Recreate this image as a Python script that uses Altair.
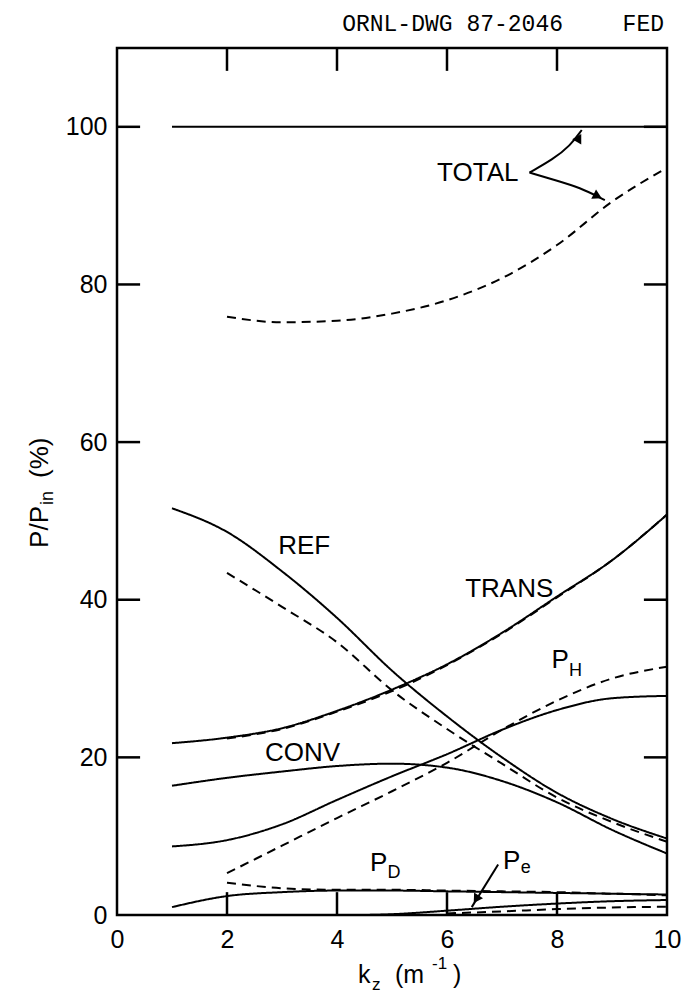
import altair as alt
import pandas as pd

# ---------------- data ----------------
KZ = [1, 2, 3, 4, 5, 6, 7, 8, 9, 10]
KZ2 = [2, 3, 4, 5, 6, 7, 8, 9, 10]

total_solid_x = [1, 10]
total_solid_y = [100, 100]
total_dash_y = [75.9, 75.2, 75.4, 76.3, 78.0, 80.8, 85.0, 90.5, 94.8]

ref_solid_y = [51.6, 48.6, 43.6, 37.7, 31.0, 25.2, 20.0, 15.5, 12.2, 9.7]
ref_dash_y = [43.4, 39.1, 34.6, 28.5, 23.6, 19.2, 14.9, 11.8, 9.3]

trans_solid_y = [21.8, 22.5, 23.7, 25.9, 28.6, 31.8, 35.8, 40.4, 45.0, 50.8]
trans_dash_y = [22.4, 23.6, 25.8, 28.4, 31.7, 35.7, 40.3, 45.0, 50.8]

conv_solid_y = [16.4, 17.4, 18.2, 18.9, 19.2, 18.7, 17.0, 14.3, 10.8, 7.8]

ph_solid_y = [8.7, 9.5, 11.5, 14.6, 17.6, 20.4, 23.5, 26.0, 27.5, 27.8]
ph_dash_y = [5.3, 8.8, 12.3, 15.7, 19.3, 23.5, 27.2, 30.0, 31.5]

pd_solid_y = [1.0, 2.4, 2.9, 3.1, 3.1, 3.0, 2.9, 2.8, 2.7, 2.6]
pd_dash_y = [4.1, 3.4, 3.2, 3.2, 3.1, 3.0, 2.9, 2.7, 2.5]

pe_solid_x = [4.5, 5, 6, 7, 8, 9, 10]
pe_solid_y = [0.0, 0.1, 0.55, 1.05, 1.45, 1.75, 1.9]
pe_dash_x = [6, 7, 8, 9, 10]
pe_dash_y = [0.2, 0.45, 0.75, 0.95, 1.05]

x_tick_values = [0, 2, 4, 6, 8, 10]
y_tick_values = [0, 20, 40, 60, 80, 100]
inner_x_ticks = [2, 4, 6, 8]
inner_y_ticks = [20, 40, 60, 80, 100]

# curve labels (data coordinates)
label_text = ["REF", "TRANS", "CONV", "TOTAL", "P", "P", "P"]
label_x = [2.93, 6.33, 2.69, 5.82, 7.90, 4.60, 7.02]
label_y = [46.8, 41.4, 20.6, 94.2, 32.3, 6.6, 6.9]
sub_text = ["H", "D", "e"]
sub_x = [8.22, 4.92, 7.34]
sub_y = [31.0, 5.3, 5.9]

# arrows (annotation paths)
arrow_id = ["up"] * 4 + ["down"] * 4 + ["pe"] * 2
arrow_x = [7.50, 7.93, 8.24, 8.45, 7.50, 7.93, 8.42, 8.87, 6.93, 6.45]
arrow_y = [94.2, 95.9, 97.6, 99.6, 94.2, 93.3, 92.3, 90.7, 6.4, 1.0]
head_x = [8.40, 8.74, 6.53]
head_y = [98.6, 91.2, 2.0]
head_angle = [30, 117, 212]

# ---------------- tables ----------------
rows = []
def add(series, style, xs, ys):
    for i, (a, b) in enumerate(zip(xs, ys)):
        rows.append({"series": series, "style": style, "kz": a, "p": b, "o": i})

add("total_s", "solid", total_solid_x, total_solid_y)
add("total_d", "dash", KZ2, total_dash_y)
add("ref_s", "solid", KZ, ref_solid_y)
add("ref_d", "dash", KZ2, ref_dash_y)
add("trans_s", "solid", KZ, trans_solid_y)
add("trans_d", "dash", KZ2, trans_dash_y)
add("conv_s", "solid", KZ, conv_solid_y)
add("ph_s", "solid", KZ, ph_solid_y)
add("ph_d", "dash", KZ2, ph_dash_y)
add("pd_s", "solid", KZ, pd_solid_y)
add("pd_d", "dash", KZ2, pd_dash_y)
add("pe_s", "solid", pe_solid_x, pe_solid_y)
add("pe_d", "dash", pe_dash_x, pe_dash_y)
lines_df = pd.DataFrame(rows)

tick_rows = []
for t in inner_x_ticks:
    tick_rows.append({"x": t, "x2": t, "y": 0, "y2": 2.9})
    tick_rows.append({"x": t, "x2": t, "y": 110, "y2": 107.1})
for t in inner_y_ticks:
    tick_rows.append({"x": 0, "x2": 0.42, "y": t, "y2": t})
    tick_rows.append({"x": 10, "x2": 9.58, "y": t, "y2": t})
ticks_df = pd.DataFrame(tick_rows)

labels_df = pd.DataFrame({"t": label_text, "x": label_x, "y": label_y})
subs_df = pd.DataFrame({"t": sub_text, "x": sub_x, "y": sub_y})
arrows_df = pd.DataFrame({"id": arrow_id, "x": arrow_x, "y": arrow_y,
                          "o": list(range(len(arrow_x)))})
heads_df = pd.DataFrame({"x": head_x, "y": head_y, "a": head_angle})

FONT = "Liberation Sans"
xs = alt.Scale(domain=[0, 10], nice=False, zero=False)
ys = alt.Scale(domain=[0, 110], nice=False)

lines = alt.Chart(lines_df).mark_line(color="black", strokeWidth=2, interpolate="monotone").encode(
    x=alt.X("kz:Q", scale=xs,
            axis=alt.Axis(values=x_tick_values, ticks=False, domain=False, grid=False,
                          labelFontSize=25, labelFont=FONT, labelColor="black",
                          labelPadding=12, title=None, labelFlush=False)),
    y=alt.Y("p:Q", scale=ys,
            axis=alt.Axis(values=y_tick_values, ticks=False, domain=False, grid=False,
                          labelFontSize=25, labelFont=FONT, labelColor="black",
                          labelPadding=10, title=None, labelFlush=False)),
    detail="series:N",
    order="o:Q",
    strokeDash=alt.StrokeDash("style:N",
                              scale=alt.Scale(domain=["solid", "dash"], range=[[1, 0], [9, 6]]),
                              legend=None),
)

ticks = alt.Chart(ticks_df).mark_rule(color="black", strokeWidth=2.5).encode(
    x="x:Q", x2="x2:Q", y="y:Q", y2="y2:Q")

labels = alt.Chart(labels_df).mark_text(
    font=FONT, fontSize=26, align="left", baseline="middle", color="black"
).encode(x="x:Q", y="y:Q", text="t:N")

subs = alt.Chart(subs_df).mark_text(
    font=FONT, fontSize=18, align="left", baseline="middle", color="black"
).encode(x="x:Q", y="y:Q", text="t:N")

arrows = alt.Chart(arrows_df).mark_line(color="black", strokeWidth=2, interpolate="basis").encode(
    x="x:Q", y="y:Q", detail="id:N", order="o:Q")

heads = alt.Chart(heads_df).mark_point(
    shape="triangle-up", filled=True, color="black", size=110, opacity=1
).encode(x="x:Q", y="y:Q", angle=alt.Angle("a:Q", scale=None))


def ptext(txt, px, py, size=25, align="left", angle=0, dx=0, dy=0, font=FONT, baseline="alphabetic"):
    kw = dict(text=txt, font=font, fontSize=size, align=align, baseline=baseline,
              color="black", dx=dx, dy=dy)
    if angle:
        kw["angle"] = angle
    return alt.Chart(pd.DataFrame({"d": [0]})).mark_text(**kw).encode(
        x=alt.value(px), y=alt.value(py))

# header
hdr1 = ptext("ORNL-DWG 87-2046", 446, -17, size=23, align="right", font="Liberation Mono")
hdr2 = ptext("FED", 547, -17, size=23, align="right", font="Liberation Mono")

# x title  k_z (m^-1)
xt1 = ptext("k", 241, 935)
xt2 = ptext("z", 255, 942, size=17)
xt3 = ptext("(m", 278, 935)
xt4 = ptext("-1", 315, 921, size=17)
xt5 = ptext(")", 336, 935)

# y title  P/P_in (%)  rotated
yt1 = ptext("P/P", -77, 458, size=26, angle=270, align="right", baseline="middle")
yt2 = ptext("in", -77, 458, size=18, angle=270, align="left", baseline="middle", dx=1, dy=8)
yt3 = ptext("(%)", -77, 458, size=26, angle=270, align="left", baseline="middle", dx=28)

chart = alt.layer(
    lines, ticks, arrows, heads, labels, subs,
    hdr1, hdr2, xt1, xt2, xt3, xt4, xt5, yt1, yt2, yt3
).properties(
    width=550, height=867,
    autosize=alt.AutoSizeParams(type="none"),
    padding={"left": 117, "top": 48, "right": 17, "bottom": 80},
    background="white",
).configure_view(stroke="black", strokeWidth=2.5)

chart.save("out.html", embed_options={"renderer": "svg", "actions": False})
